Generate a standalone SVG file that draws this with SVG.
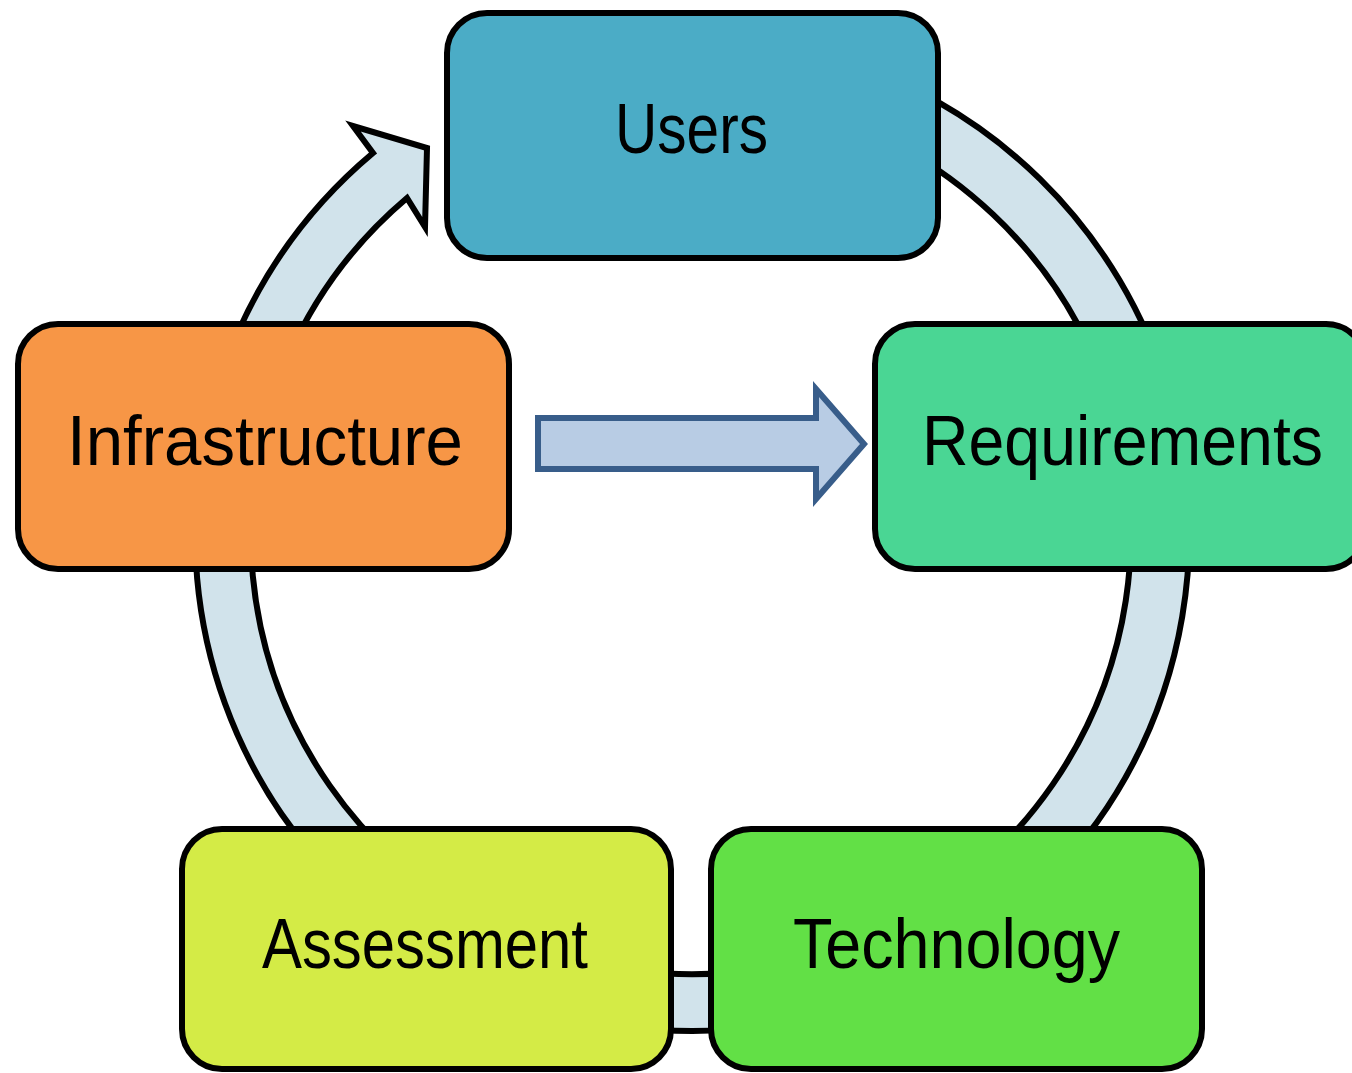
<svg xmlns="http://www.w3.org/2000/svg" width="1352" height="1073" viewBox="0 0 1352 1073">
  <style>
    .box { stroke: #000000; stroke-width: 6; }
    .lbl { font-family: "Liberation Sans", Arial, sans-serif; font-size: 70px; fill: #000000; text-anchor: middle; }
    .ring { fill: #D1E3EB; stroke: #000000; stroke-width: 6; stroke-linejoin: miter; }
    .flow { fill: #B8CCE4; stroke: #385D8A; stroke-width: 6; }
  </style>
  <rect width="1352" height="1073" fill="#FFFFFF"/>
  <g id="connectors">
    <path class="ring" d="M 600,45.6 A 497 497 0 1 1 373,153 L 353,126 L 427,148 L 425,227 L 407,198 A 440 440 0 1 0 600,103.7 Z"/>
    <path class="flow" d="M 538,418 L 816,418 L 816,389 L 864,444 L 816,499 L 816,469 L 538,469 Z"/>
  </g>
  <g id="node-users">
    <rect class="box" x="447" y="13" width="491" height="245" rx="40" fill="#4BACC6"/>
    <text class="lbl" x="691.5" y="153" textLength="153" lengthAdjust="spacingAndGlyphs">Users</text>
  </g>
  <g id="node-requirements">
    <rect class="box" x="875" y="324" width="491" height="245" rx="40" fill="#4AD694"/>
    <text class="lbl" x="1122.5" y="465" textLength="401" lengthAdjust="spacingAndGlyphs">Requirements</text>
  </g>
  <g id="node-technology">
    <rect class="box" x="711" y="829" width="491" height="240" rx="40" fill="#62E046"/>
    <text class="lbl" x="956.5" y="968" textLength="327" lengthAdjust="spacingAndGlyphs">Technology</text>
  </g>
  <g id="node-assessment">
    <rect class="box" x="182" y="829" width="489" height="240" rx="40" fill="#D4EB46"/>
    <text class="lbl" x="425" y="968" textLength="326" lengthAdjust="spacingAndGlyphs">Assessment</text>
  </g>
  <g id="node-infrastructure">
    <rect class="box" x="18" y="324" width="491" height="245" rx="40" fill="#F79646"/>
    <text class="lbl" x="265" y="465" textLength="396" lengthAdjust="spacingAndGlyphs">Infrastructure</text>
  </g>
</svg>
